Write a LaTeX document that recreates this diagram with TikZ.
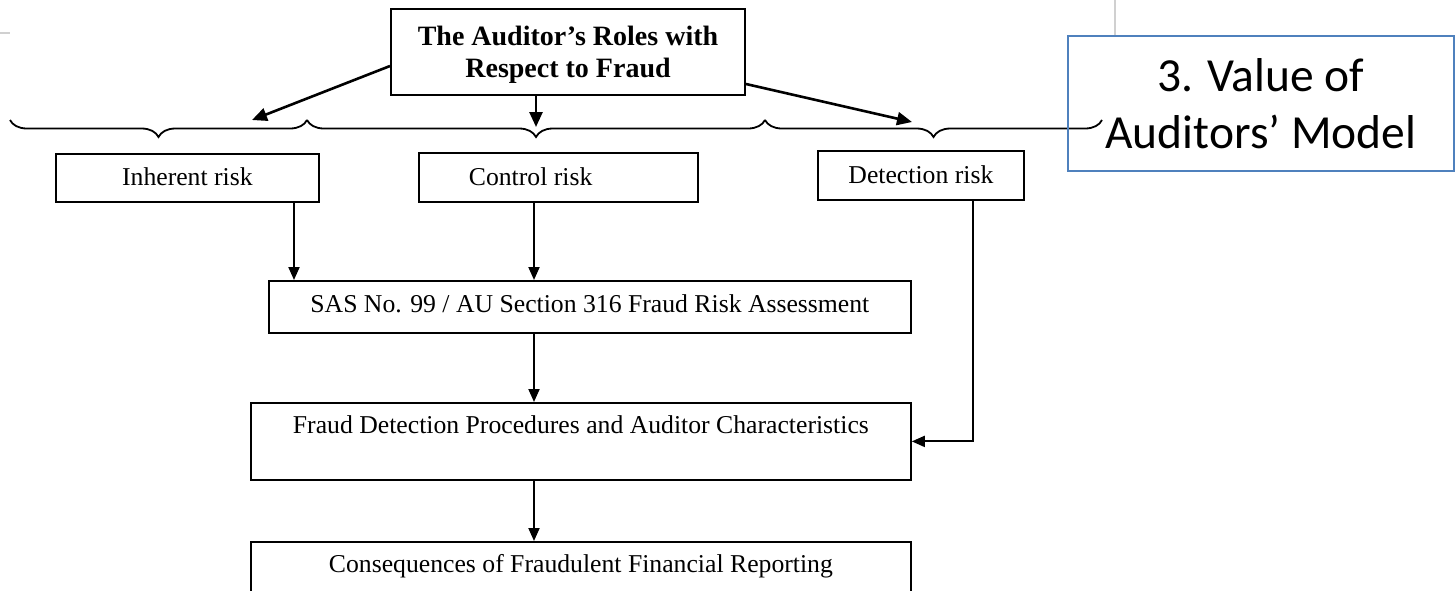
\documentclass[tikz,border=0pt]{standalone}
\usepackage{fontspec}
\setmainfont{Liberation Serif}
\newfontfamily\calib{Carlito}
\usetikzlibrary{arrows.meta,decorations.pathreplacing}
\definecolor{officeblue}{HTML}{4F81BD}
\definecolor{artgray}{HTML}{D0D0D0}
\begin{document}
\begin{tikzpicture}[x=1pt,y=-1pt,
  box/.style={draw, line width=1.8pt, inner sep=0pt, anchor=north west, font=\fontsize{25.7}{30}\selectfont},
  arr/.style={line width=2pt, -{Triangle[length=13pt,width=11pt]}},
  toparr/.style={line width=2.6pt, -{Triangle[length=15pt,width=13pt]}},
  bracepath/.style={line width=1.8pt, decorate, decoration={brace, mirror, amplitude=17pt}}]
\useasboundingbox (0,0) rectangle (1455,590);
\clip (0,0) rectangle (1455,590);
% faint artefacts
\draw[artgray, line width=1.2pt] (1115,0) -- (1115,35);
\draw[artgray, line width=1.2pt] (0,33) -- (10,33);
% title
\node[box, line width=2pt, minimum width=354pt, minimum height=86pt, align=center,
      font=\fontsize{28}{32}\selectfont\bfseries] (title) at (390,8)
      {\rule{0pt}{25pt}The Auditor’s Roles with\\Respect to Fraud};
% braces
\coordinate (b1l) at (10,120);
\coordinate (b1r) at (307,120);
\coordinate (b2r) at (765,120);
\coordinate (b3r) at (1102,120);
\draw[bracepath] (b1l) -- (b1r);
\draw[bracepath] (b1r) -- (b2r);
\draw[bracepath] (b2r) -- (b3r);
% value box
\node[draw=officeblue, line width=1.8pt, inner sep=0pt, anchor=north west,
      minimum width=386pt, minimum height=135pt, align=center,
      font=\calib\fontsize{47.5}{57}\selectfont] (val) at (1067,35)
      {3. Value of\\Auditors’ Model};
% risk boxes
\node[box, minimum width=263pt, text height=32pt, text depth=16pt] (inh) at (55,153) {Inherent risk};
\node[box, minimum width=279pt, text height=33pt, text depth=16pt] (ctl) at (418,152)
      {\makebox[279pt][l]{\hspace{50pt}Control risk}};
\node[box, minimum width=206pt, text height=33pt, text depth=16pt] (det) at (817,150) {Detection risk};
% lower boxes
\node[box, minimum width=642pt, text height=32pt, text depth=20pt] (sas) at (268,280)
      {SAS No. 99 / AU Section 316 Fraud Risk Assessment};
\node[box, minimum width=660pt, text height=31pt, text depth=46pt] (fraud) at (250,402)
      {Fraud Detection Procedures and Auditor Characteristics};
\node[box, minimum width=660pt, text height=31pt, text depth=45pt] (cons) at (250,541)
      {Consequences of Fraudulent Financial Reporting};
% arrow ends
\coordinate (t1) at (252,120);
\coordinate (t2) at (536,127);
\coordinate (t3) at (912,122);
\coordinate (c1) at (294,0);
\coordinate (c2) at (534,0);
\coordinate (c3) at (973,0);
\draw[toparr] ([yshift=-14pt]title.west) -- (t1);
\draw[toparr] (title.south -| t2) -- (t2);
\draw[toparr] ([yshift=-32pt]title.east) -- (t3);
\draw[arr] (inh.south -| c1) -- (sas.north -| c1);
\draw[arr] (ctl.south -| c2) -- (sas.north -| c2);
\draw[arr] (sas.south -| c2) -- (fraud.north -| c2);
\draw[arr] (fraud.south -| c2) -- (cons.north -| c2);
\draw[arr] (det.south -| c3) |- (fraud.east);
\end{tikzpicture}
\end{document}
